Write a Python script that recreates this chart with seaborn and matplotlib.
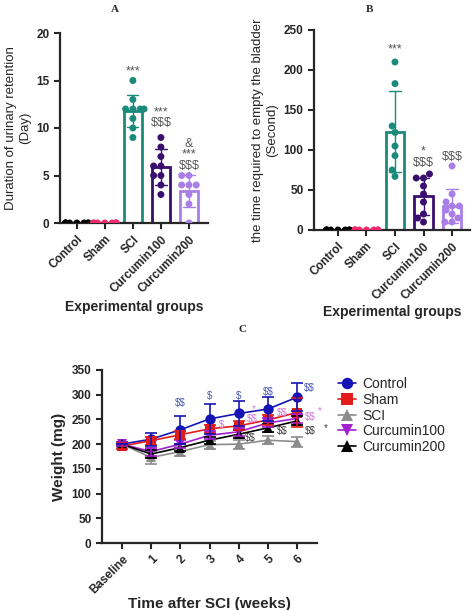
import warnings
import numpy as np
import pandas as pd
import matplotlib
matplotlib.use('Agg')
import matplotlib.pyplot as plt
import seaborn as sns

warnings.filterwarnings('ignore')

sns.set_style('ticks')
plt.rcParams['font.family'] = ['Liberation Sans', 'DejaVu Sans']
plt.rcParams['text.parse_math'] = False

groups = ['Control', 'Sham', 'SCI', 'Curcumin100', 'Curcumin200']
bar_colors = ['#000000', '#f0286e', '#1a8a7a', '#3a0e6e', '#a97ee6']

# panel A: duration of urinary retention (day)
ret_control = [0, 0, 0, 0, 0, 0, 0, 0]
ret_sham = [0, 0, 0, 0, 0, 0, 0, 0]
ret_sci = [15, 13, 12, 12, 12, 12, 11, 10, 9]
ret_cur100 = [9, 8, 7, 6, 6, 5, 5, 4, 3]
ret_cur200 = [5, 5, 4, 4, 4, 3, 2, 0]

# panel B: time to empty the bladder (second)
emp_control = [0, 0, 0, 0, 0, 0, 0, 0]
emp_sham = [0, 0, 0, 0, 0, 0, 0, 0]
emp_sci = [210, 183, 130, 122, 105, 93, 75, 67]
emp_cur100 = [70, 65, 65, 55, 45, 35, 20, 15, 10]
emp_cur200 = [80, 45, 35, 30, 30, 25, 20, 15, 10, 10]

# panel C: body weight, mean and SEM
weeks = ['Baseline', '1', '2', '3', '4', '5', '6']
w_control = [200, 210, 229, 251, 262, 271, 295]
w_control_sem = [0, 13, 28, 30, 26, 24, 28]
w_sham = [196, 207, 219, 231, 237, 249, 264]
w_sham_sem = [6, 8, 8, 8, 9, 10, 29]
w_sci = [200, 173, 185, 199, 200, 208, 205]
w_sci_sem = [5, 14, 9, 8, 9, 8, 10]
w_cur100 = [200, 185, 200, 218, 225, 243, 252]
w_cur100_sem = [4, 8, 8, 8, 8, 9, 9]
w_cur200 = [200, 180, 193, 208, 220, 233, 247]
w_cur200_sem = [4, 8, 7, 7, 8, 8, 9]


def long_df(cols):
    rows = []
    for g, vals in zip(groups, cols):
        for v in vals:
            rows.append((g, v))
    return pd.DataFrame(rows, columns=['group', 'value'])


def style_axis(ax, size):
    ax.tick_params(axis='x', rotation=45, labelsize=size, width=1.5, length=4)
    ax.tick_params(axis='y', labelsize=size, width=1.5, length=4)
    for lab in ax.get_xticklabels():
        lab.set_ha('right')
        lab.set_rotation_mode('anchor')
        lab.set_fontweight('bold')
    for lab in ax.get_yticklabels():
        lab.set_fontweight('bold')
    for s in ['left', 'bottom']:
        ax.spines[s].set_linewidth(1.6)
    sns.despine(ax=ax)


def bar_panel(ax, df, ylim, yticks, ylabel, xlim, xlab_y):
    sns.barplot(data=df, x='group', y='value', hue='group', order=groups,
                palette=bar_colors, fill=False, errorbar='sd', capsize=0.4,
                err_kws={'linewidth': 1.0}, width=0.65, linewidth=2,
                legend=False, ax=ax)
    sns.swarmplot(data=df, x='group', y='value', hue='group', order=groups,
                  palette=bar_colors, size=5, legend=False, ax=ax, zorder=4)
    ax.set_ylim(*ylim)
    ax.set_yticks(yticks)
    ax.set_xlim(*xlim)
    ax.set_xlabel('Experimental groups', fontsize=10, fontweight='bold')
    ax.xaxis.set_label_coords(0.5, xlab_y)
    ax.set_ylabel(ylabel, fontsize=9.5)
    style_axis(ax, 8.5)


fig = plt.figure(figsize=(4.74, 6.10), dpi=100)

# ---- panel A
axA = fig.add_axes([60 / 474, 1 - 223 / 610, 148 / 474, 190 / 610])
bar_panel(axA, long_df([ret_control, ret_sham, ret_sci, ret_cur100, ret_cur200]),
          (0, 20), [0, 5, 10, 15, 20],
          'Duration of urinary retention\n(Day)', (-0.6, 4.68), -0.405)
star_col = '#555555'
axA.text(2, 15.6, '***', ha='center', fontsize=9, color=star_col)
axA.text(3, 10.2, '***\n$$$', ha='center', fontsize=9, color=star_col, linespacing=0.9)
axA.text(4, 5.7, '&\n***\n$$$', ha='center', fontsize=9, color=star_col, linespacing=0.9)
fig.text(115 / 474, 1 - 9 / 610, 'A', ha='center', va='center', fontsize=8,
         fontweight='bold', family='Liberation Serif')

# ---- panel B
axB = fig.add_axes([314 / 474, 1 - 230 / 610, 156 / 474, 200 / 610])
bar_panel(axB, long_df([emp_control, emp_sham, emp_sci, emp_cur100, emp_cur200]),
          (0, 250), [0, 50, 100, 150, 200, 250],
          'the time required to empty the bladder\n(Second)', (-0.84, 4.63), -0.375)
axB.text(2, 222, '***', ha='center', fontsize=9, color=star_col)
axB.text(3, 80, '*\n$$$', ha='center', fontsize=9, color=star_col, linespacing=0.9)
axB.text(4, 87, '$$$', ha='center', fontsize=9, color=star_col)
fig.text(370 / 474, 1 - 9 / 610, 'B', ha='center', va='center', fontsize=8,
         fontweight='bold', family='Liberation Serif')

# ---- panel C
axC = fig.add_axes([102 / 474, 1 - 543 / 610, 215 / 474, 173 / 610])
line_names = ['Control', 'Sham', 'SCI', 'Curcumin100', 'Curcumin200']
line_colors = ['#1515b5', '#e41b1b', '#8c8c8c', '#a21fd0', '#000000']
line_markers = ['o', 's', '^', 'v', '^']
means = [w_control, w_sham, w_sci, w_cur100, w_cur200]
sems = [w_control_sem, w_sham_sem, w_sci_sem, w_cur100_sem, w_cur200_sem]

rows = []
for g, m, e in zip(line_names, means, sems):
    for i, (mv, ev) in enumerate(zip(m, e)):
        rows.append((g, i, mv, ev))
wdf = pd.DataFrame(rows, columns=['group', 'week', 'weight', 'sem'])

zord = {'Control': 5, 'Sham': 4, 'SCI': 3, 'Curcumin100': 3.5, 'Curcumin200': 3.2}
for g, c in zip(line_names, line_colors):
    sub = wdf[wdf['group'] == g]
    axC.errorbar(sub['week'], sub['weight'], yerr=sub['sem'], fmt='none',
                 ecolor=c, elinewidth=1.2, capsize=4, capthick=1.2, zorder=zord[g] - 1)

sns.lineplot(data=wdf, x='week', y='weight', hue='group', style='group',
             hue_order=line_names, style_order=line_names,
             palette=line_colors, markers=line_markers, dashes=False,
             markersize=7.5, markeredgewidth=0, linewidth=1.2, ax=axC)

axC.set_ylim(0, 350)
axC.set_yticks(range(0, 351, 50))
axC.set_xlim(-0.68, 6.68)
axC.set_xticks(range(len(weeks)))
axC.set_xticklabels(weeks)
axC.set_xlabel('Time after SCI (weeks)', fontsize=11, fontweight='bold')
axC.xaxis.set_label_coords(0.5, -0.31)
axC.set_ylabel('Weight (mg)', fontsize=11, fontweight='bold')
style_axis(axC, 8.5)

leg = axC.legend(loc='upper left', bbox_to_anchor=(1.07, 0.99), frameon=False,
                 fontsize=10, handlelength=1.3, handletextpad=0.5,
                 labelspacing=0.12, borderaxespad=0, markerscale=1.1)

blue_a = '#4a5ab8'
pink_a = '#d27ad8'
dark_a = '#404040'
ann = [
    (2.0, 284, '$$', blue_a), (3.0, 298, '$', blue_a), (4.0, 298, '$', blue_a),
    (5.0, 306, '$$', blue_a), (6.4, 314, '$$', blue_a),
    (3.4, 239, '$', pink_a), (4.45, 250, '$$', pink_a), (5.5, 263, '$$', pink_a),
    (6.45, 255, '$$', pink_a), (4.5, 271, '*', pink_a), (6.78, 267, '*', pink_a),
    (4.4, 213, '$$', dark_a), (5.5, 227, '$$', dark_a), (6.45, 227, '$$', dark_a),
    (6.98, 232, '*', dark_a),
]
for x, y, t, c in ann:
    axC.text(x, y, t, ha='center', va='center', fontsize=7, color=c, clip_on=False)

fig.text(243 / 474, 1 - 329 / 610, 'C', ha='center', va='center', fontsize=8,
         fontweight='bold', family='Liberation Serif')

fig.savefig('out.png', dpi=100)
